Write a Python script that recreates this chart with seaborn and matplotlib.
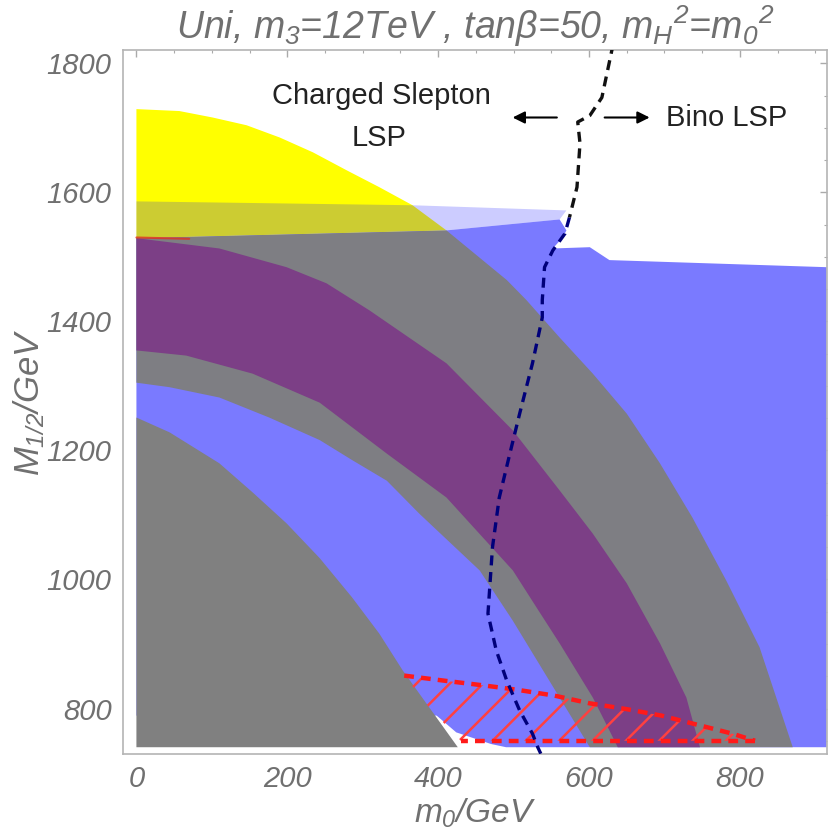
import pandas as pd
import seaborn as sns
import matplotlib.pyplot as plt
from matplotlib.ticker import MultipleLocator

# ---- dados (m0 em GeV, M1/2 em GeV) ----
# faixa amarela (topo)
yellow_top_x = [0, 57, 101, 146, 190, 234, 279, 322, 366, 411]
yellow_top_y = [1729, 1726, 1716, 1704, 1685, 1662, 1634, 1608, 1580, 1541]

# linha L: base do amarelo / topo da faixa cinza
edge_l_x = [0, 411, 561]
edge_l_y = [1529, 1541, 1558]

# faixa azul clara (translucida)
band_top_x = [0, 366, 570]
band_top_y = [1586, 1580, 1572]

# regiao azul
blue_top_x = [0, 411, 561, 570, 565, 552, 601, 627, 915]
blue_top_y = [1529, 1541, 1558, 1541, 1530, 1513, 1515, 1495, 1484]
blue_low_x = [915, 490, 470, 424, 398, 0]
blue_low_y = [740, 740, 745, 763, 789, 789]

# faixa cinza grande
grey_outer_x = [0, 411, 491, 517, 561, 605, 650, 694, 737, 782, 826, 870]
grey_outer_y = [1529, 1541, 1464, 1433, 1375, 1319, 1257, 1180, 1096, 998, 895, 740]
grey_inner_x = [0, 44, 110, 176, 243, 286, 332, 375, 455, 499, 601]
grey_inner_y = [1305, 1298, 1282, 1251, 1216, 1185, 1153, 1102, 1014, 936, 740]

# faixa roxa
purple_top_x = [0, 110, 199, 252, 309, 411, 499, 561, 605, 650, 694, 729, 747]
purple_top_y = [1529, 1513, 1484, 1459, 1417, 1335, 1231, 1138, 1071, 994, 901, 817, 740]
purple_low_x = [0, 66, 154, 243, 332, 411, 499, 534, 561, 605, 627, 638]
purple_low_y = [1355, 1347, 1319, 1274, 1195, 1127, 1014, 950, 901, 817, 766, 740]

# triangulo cinza (canto inferior esquerdo)
tri_x = [0, 44, 110, 154, 199, 243, 286, 322, 353, 426]
tri_y = [1251, 1228, 1180, 1135, 1087, 1033, 972, 916, 859, 740]

# regiao hachurada vermelha
hatch_top_x = [355, 409, 459, 505, 554, 601, 650, 696, 743, 790, 820]
hatch_top_y = [851, 843, 836, 829, 820, 808, 799, 789, 775, 761, 750]
hatch_low_x = [820, 430, 389]
hatch_low_y = [750, 750, 800]

# fronteira charged slepton LSP / bino LSP
lsp_x = [632, 617, 601, 585, 588, 584, 574, 568, 552, 541, 538, 538, 525,
         508, 495, 481, 472, 466, 477, 491, 508, 525, 532, 536]
lsp_y = [1830, 1747, 1719, 1709, 1676, 1608, 1561, 1536, 1510, 1484, 1433,
         1406, 1335, 1257, 1195, 1127, 1050, 947, 890, 843, 797, 761, 740, 730]
lsp_split = 7  # acima disso a linha esta sobre o branco

x_ticks = [0, 200, 400, 600, 800]
y_ticks = [800, 1000, 1200, 1400, 1600, 1800]

sns.set_style('white')
plt.rcParams['font.family'] = ['Liberation Sans', 'DejaVu Sans']
plt.rcParams['font.style'] = 'italic'
plt.rcParams['mathtext.fontset'] = 'custom'
plt.rcParams['mathtext.it'] = 'Liberation Sans:italic'
plt.rcParams['mathtext.rm'] = 'Liberation Sans:italic'
plt.rcParams['hatch.linewidth'] = 1.8
plt.rcParams['hatch.color'] = '#ff4040'

txt_grey = '#707070'

fig = plt.figure(figsize=(8.3, 8.4), dpi=100)
ax = fig.add_axes([0.148, 0.102, 0.848, 0.838])

# azul
ax.fill(blue_top_x + blue_low_x, blue_top_y + blue_low_y, color='#7a7aff', lw=0, zorder=1)
# amarelo
ax.fill(yellow_top_x + edge_l_x[1::-1], yellow_top_y + edge_l_y[1::-1],
        color='#ffff00', lw=0, zorder=2)
# faixa azul translucida
ax.fill(band_top_x + edge_l_x[::-1], band_top_y + edge_l_y[::-1],
        color='#0000ff', alpha=0.2, lw=0, zorder=3)
# cinza
ax.fill(grey_outer_x + grey_inner_x[::-1], grey_outer_y + grey_inner_y[::-1],
        color='#7e7e83', lw=0, zorder=4)
# roxo
ax.fill(purple_top_x + purple_low_x[::-1], purple_top_y + purple_low_y[::-1],
        color='#7c3f86', lw=0, zorder=5)
ax.plot([0, 70], [1530, 1528], color='#e03020', lw=1.5, alpha=0.8, zorder=5)
# triangulo cinza
ax.fill([0] + tri_x, [740] + tri_y, color='#808080', lw=0, zorder=6)

# hachura vermelha
ax.fill(hatch_top_x + hatch_low_x, hatch_top_y + hatch_low_y,
        facecolor='none', edgecolor='#ff4040', hatch='/', lw=0, zorder=7)
ax.plot(hatch_top_x, hatch_top_y, color='#ff1a1a', lw=3.2, ls=(0, (2.2, 1.6)), zorder=8)
ax.plot(hatch_low_x[:2], hatch_low_y[:2], color='#ff1a1a', lw=3.2, ls=(0, (2.2, 1.6)), zorder=8)

# linha tracejada LSP
lsp = pd.DataFrame({'m0': lsp_x, 'M12': lsp_y})
sns.lineplot(data=lsp.iloc[:lsp_split], x='m0', y='M12', sort=False, estimator=None,
             ax=ax, color='#111111', lw=2.4, zorder=9)
sns.lineplot(data=lsp.iloc[lsp_split - 1:], x='m0', y='M12', sort=False, estimator=None,
             ax=ax, color='#00007a', lw=2.4, zorder=9)
for line in ax.get_lines()[-2:]:
    line.set_linestyle((0, (3.0, 2.0)))

# textos e setas
ax.text(325, 1749, 'Charged Slepton', ha='center', va='center', fontsize=21,
        style='normal', color='#222222', zorder=10)
ax.text(321, 1685, 'LSP', ha='center', va='center', fontsize=21,
        style='normal', color='#222222', zorder=10)
ax.text(783, 1716, 'Bino LSP', ha='center', va='center', fontsize=21,
        style='normal', color='#222222', zorder=10)
arrow = dict(arrowstyle='-|>', color='black', lw=1.5, mutation_scale=18)
ax.annotate('', xy=(495, 1716), xytext=(561, 1716), arrowprops=arrow, zorder=10)
ax.annotate('', xy=(684, 1716), xytext=(617, 1716), arrowprops=arrow, zorder=10)

ax.set_xlim(-18, 915)
ax.set_ylim(729, 1820)
ax.set_xticks(x_ticks)
ax.set_yticks(y_ticks)
ax.xaxis.set_minor_locator(MultipleLocator(50))
ax.yaxis.set_minor_locator(MultipleLocator(50))
ax.tick_params(which='both', direction='in', top=True, right=True,
               color='#aaaaaa', labelcolor=txt_grey, labelsize=21)
ax.tick_params(which='major', length=5, width=1, pad=8)
ax.tick_params(which='minor', length=2.5, width=0.8)
for s in ax.spines.values():
    s.set_color('#b4b4b4')
    s.set_linewidth(1.2)

ax.set_xlabel('$m_0$/GeV', fontsize=24, color=txt_grey, labelpad=2)
ax.set_ylabel('$M_{1/2}$/GeV', fontsize=25, color=txt_grey, labelpad=0)
ax.set_title(r'Uni, $m_3$=12TeV , tan$\beta$=50, $m_H{}^2$=$m_0{}^2$',
             fontsize=27, color=txt_grey, pad=8)

fig.savefig('out.png', dpi=100)
